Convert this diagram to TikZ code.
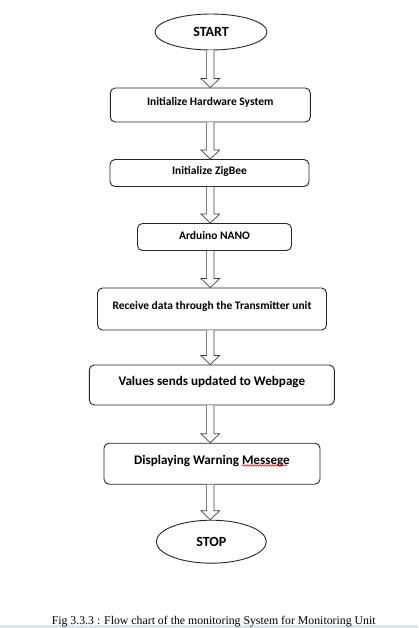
\documentclass[tikz,border=0pt]{standalone}
\usepackage{fontspec}
\setmainfont{Carlito}
\newfontfamily\capfont{Liberation Serif}
\usetikzlibrary{shapes.geometric,calc,decorations.pathmorphing}
\tikzset{
  box/.style={draw=black!85,line width=0.9pt,rounded corners=5pt,inner sep=0pt},
  term/.style={draw=black!85,line width=0.9pt,ellipse,inner sep=0pt},
  lab/.style={inner sep=0pt,font=\bfseries\fontsize{11.5}{13}\selectfont},
  biglab/.style={inner sep=0pt,font=\bfseries\fontsize{13.1}{15}\selectfont},
  termlab/.style={inner sep=0pt,font=\bfseries\fontsize{14}{16}\selectfont},
  arr/.style={draw=black!75,line width=0.7pt,fill=white,line join=miter}
}
\newcommand{\blockarrow}[2]{%
  \draw[arr] ($(#1.south -| ax)+(-3.7,0)$) -- ($(#2.north -| ax)+(-3.7,-9)$)
    -- ($(#2.north -| ax)+(-9.3,-9)$) -- (#2.north -| ax)
    -- ($(#2.north -| ax)+(9.3,-9)$) -- ($(#2.north -| ax)+(3.7,-9)$)
    -- ($(#1.south -| ax)+(3.7,0)$);}
\begin{document}
\begin{tikzpicture}[x=1pt,y=-1pt]
\useasboundingbox[fill=white] (0,0) rectangle (418,628);
\fill[fill={rgb,255:red,222;green,230;blue,237}] (0,625) rectangle (418,628);
\coordinate (ax) at (210.3,0);

\node[term,minimum width=112pt,minimum height=36pt] (start) at (211,32) {};
\node[termlab] at (start) {START};

\node[box,minimum width=200pt,minimum height=34pt] (b1) at (210.3,105) {};
\node[lab] at ($(b1)+(0,-2.5)$) {Initialize Hardware System};

\node[box,minimum width=199pt,minimum height=27pt] (b2) at (209.5,173) {};
\node[lab] at ($(b2)+(0,-1.5)$) {Initialize ZigBee};

\node[box,minimum width=154pt,minimum height=27pt] (b3) at (214.5,237) {};
\node[lab] at ($(b3)+(0,-1.5)$) {Arduino NANO};

\node[box,minimum width=229pt,minimum height=42pt] (b4) at (212,309) {};
\node[lab] at ($(b4)+(0,-3)$) {Receive data through the Transmitter unit};

\node[box,minimum width=245pt,minimum height=40pt] (b5) at (211.8,385) {};
\node[biglab] at ($(b5)+(0,-3)$) {Values sends updated to Webpage};

\node[box,minimum width=216pt,minimum height=41pt] (b6) at (212,463.7) {};
\node[biglab] (t6) at ($(b6)+(0,-3)$) {Displaying Warning Messege};

\node[term,minimum width=110pt,minimum height=43pt] (stop) at (211.3,541.7) {};
\node[termlab] at (stop) {STOP};

\coordinate (sq1) at (242,465.5);
\coordinate (sq2) at (287,465.5);
\draw[red!85!black,line width=0.5pt,decorate,decoration={snake,amplitude=0.8pt,segment length=2.5pt}] (sq1) -- (sq2);

\blockarrow{start}{b1}
\blockarrow{b1}{b2}
\blockarrow{b2}{b3}
\blockarrow{b3}{b4}
\blockarrow{b4}{b5}
\blockarrow{b5}{b6}
\blockarrow{b6}{stop}

\node[inner sep=0pt,font=\capfont\fontsize{11.8}{13}\selectfont,anchor=base] (cap) at (213.7,624) {Fig 3.3.3 : Flow chart of the monitoring System for Monitoring Unit};
\end{tikzpicture}
\end{document}
